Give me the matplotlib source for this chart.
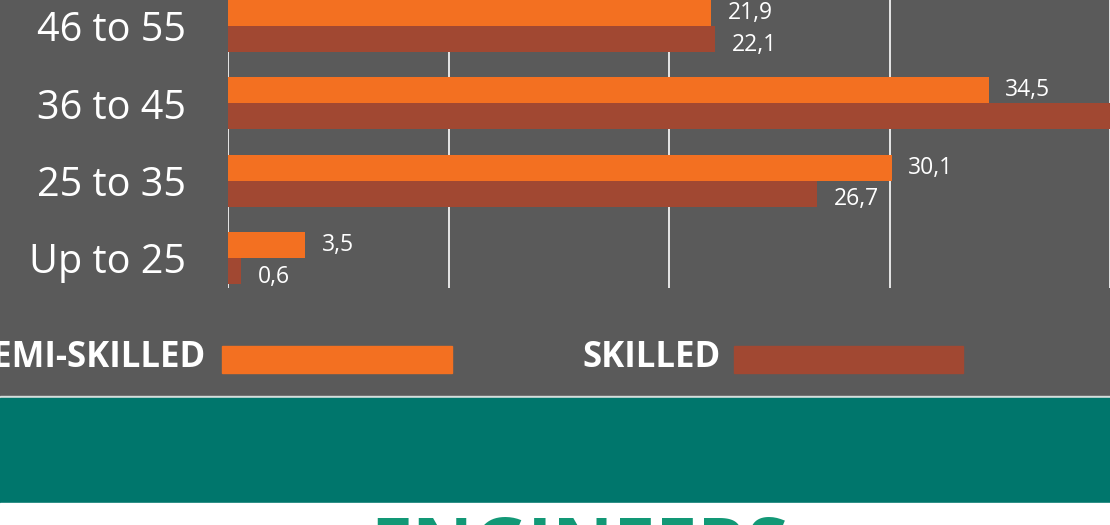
import numpy as np
import matplotlib
matplotlib.use('Agg')
import matplotlib.pyplot as plt
from matplotlib.patches import Rectangle

plt.rcParams['font.family'] = ['Open Sans', 'DejaVu Sans']

groups = ['Up to 25', '25 to 35', '36 to 45', '46 to 55']
semi_skilled = [3.5, 30.1, 34.5, 21.9]
skilled = [0.6, 26.7, 41.5, 22.1]
semi_labels = ['3,5', '30,1', '34,5', '21,9']
skilled_labels = ['0,6', '26,7', '41,5', '22,1']
ticks = [0, 10, 20, 30, 40]

bg = '#5a5a5a'
orange = '#f37021'
rust = '#a14832'
teal = '#00766c'

fig = plt.figure(figsize=(11.1, 5.25), dpi=100)
fig.patch.set_facecolor(bg)

W, H = 1110, 525
ax = fig.add_axes([228 / W, 1 - 288 / H, 882 / W, 288 / H])
ax.set_facecolor(bg)

y = np.arange(len(groups))
h = 0.336
ax.barh(y + h / 2, semi_skilled, height=h, color=orange, zorder=2)
ax.barh(y - h / 2, skilled, height=h, color=rust, zorder=2)

# value labels (the one past the right edge is not drawn)
for i in range(len(groups)):
    ax.annotate(semi_labels[i], (semi_skilled[i], y[i] + h / 2), xytext=(12, 0),
                textcoords='offset points', va='center', ha='left',
                color='white', fontsize=16.5)
    ax.annotate(skilled_labels[i], (skilled[i], y[i] - h / 2), xytext=(12, -4),
                textcoords='offset points', va='center', ha='left',
                color='white', fontsize=16.5)

ax.set_xlim(0, 40)
ax.set_ylim(-0.388, 3.336)
ax.set_xticks(ticks)
ax.set_yticks(y)
ax.set_yticklabels(groups, color='white', fontsize=28.5)
ax.tick_params(axis='y', length=0, pad=30)
ax.tick_params(axis='x', length=0, labelbottom=False)
ax.grid(axis='x', color='#e6e6e6', linewidth=1.4, zorder=0)
ax.set_axisbelow(True)
for s in ax.spines.values():
    s.set_visible(False)

# legend
fig.text(206 / W, 1 - 358 / H, 'SEMI-SKILLED', ha='right', va='center',
         color='white', fontsize=25, fontweight='bold')
fig.add_artist(Rectangle((222 / W, 1 - 373 / H), 230 / W, 27 / H,
                         transform=fig.transFigure, color=orange))
fig.text(721 / W, 1 - 358 / H, 'SKILLED', ha='right', va='center',
         color='white', fontsize=25, fontweight='bold')
fig.add_artist(Rectangle((734 / W, 1 - 373 / H), 229 / W, 27 / H,
                         transform=fig.transFigure, color=rust))

# bottom bands
fig.add_artist(Rectangle((0, 1 - 398 / H), 1, 2.5 / H,
                         transform=fig.transFigure, color='#d5dedc'))
fig.add_artist(Rectangle((0, 1 - 503 / H), 1, 105 / H,
                         transform=fig.transFigure, color=teal))
fig.add_artist(Rectangle((0, 0), 1, 22 / H,
                         transform=fig.transFigure, color='white'))
fig.text(579 / W, 1 - 515 / H, 'ENGINEERS', ha='center', va='top',
         color='#129876', fontsize=54, fontweight='bold')

fig.savefig('out.png', dpi=100, facecolor=bg)
